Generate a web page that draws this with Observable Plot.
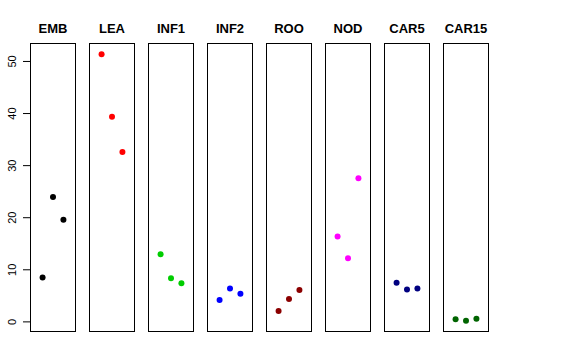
<!DOCTYPE html>
<html>
<head>
<meta charset="utf-8">
<script src="https://cdn.jsdelivr.net/npm/d3@7"></script>
<script src="https://cdn.jsdelivr.net/npm/@observablehq/plot@0.6"></script>
<style>
  body { margin: 0; background: #fff; }
  svg { font-family: "Liberation Sans", Arial, sans-serif; }
</style>
</head>
<body>
<div id="chart"></div>
<script>
const tissues = ["EMB", "LEA", "INF1", "INF2", "ROO", "NOD", "CAR5", "CAR15"];
const colors = ["black", "red", "#00cd00", "blue", "#8b0000", "magenta", "#000080", "#006400"];
const replicate = [1, 2, 3];
const EMB = [8.5, 24.0, 19.6];
const LEA = [51.4, 39.4, 32.6];
const INF1 = [13.0, 8.4, 7.4];
const INF2 = [4.2, 6.4, 5.4];
const ROO = [2.1, 4.4, 6.1];
const NOD = [16.4, 12.2, 27.6];
const CAR5 = [7.5, 6.2, 6.4];
const CAR15 = [0.5, 0.2, 0.6];
const yTicks = [0, 10, 20, 30, 40, 50];

const series = [EMB, LEA, INF1, INF2, ROO, NOD, CAR5, CAR15];
const data = [];
tissues.forEach((t, i) => {
  series[i].forEach((v, j) => {
    data.push({tissue: t, rep: replicate[j], value: v, color: colors[i]});
  });
});

const vals = data.map(d => d.value);
const ymin = d3.min(vals), ymax = d3.max(vals);
const pad = (ymax - ymin) * 0.04;

const plot = Plot.plot({
  width: 576,
  height: 360,
  marginLeft: 29,
  marginRight: 88,
  marginTop: 43,
  marginBottom: 29,
  style: {fontFamily: "Liberation Sans, Arial, sans-serif", background: "white"},
  fx: {domain: tissues, paddingInner: 0.245, paddingOuter: 0},
  x: {domain: [-0.16, 4.16], axis: null},
  y: {domain: [ymin - pad, ymax + pad]},
  color: {type: "identity"},
  marks: [
    Plot.frame({stroke: "black", strokeWidth: 1}),
    Plot.axisFx({anchor: "top", tickSize: 0, tickPadding: 11, label: null, fontWeight: "bold", fontSize: 13, fill: "black"}),
    Plot.axisY({ticks: yTicks, tickSize: 7, tickPadding: 8, tickRotate: -90, fontSize: 11, label: null, fill: "black", stroke: "black"}),
    Plot.dot(data, {fx: "tissue", x: "rep", y: "value", fill: "color", r: 3})
  ]
});
document.getElementById("chart").appendChild(plot);
</script>
</body>
</html>
